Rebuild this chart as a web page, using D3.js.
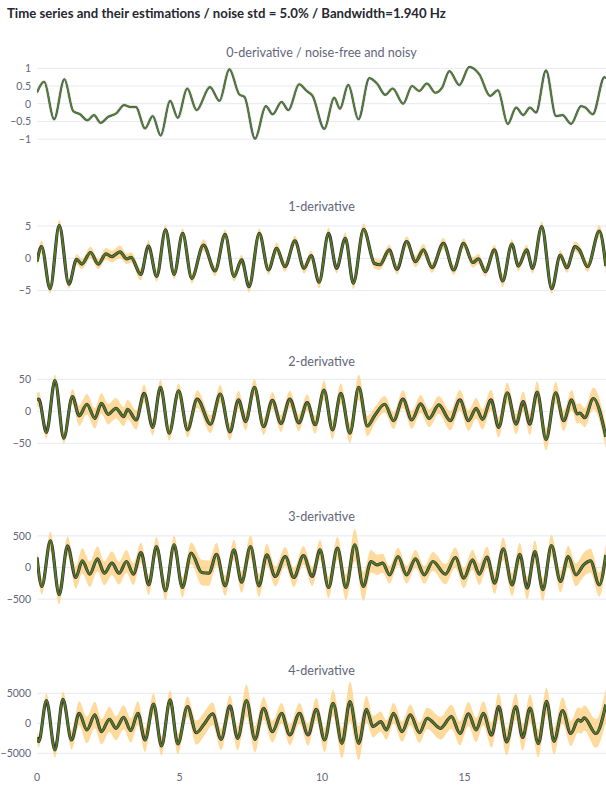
<!DOCTYPE html>
<html lang="en">
<head>
  <meta charset="UTF-8" />
  <title>Time series and their estimations</title>
  <script src="https://cdn.jsdelivr.net/npm/d3@7"></script>
  <style>
    html, body { margin: 0; padding: 0; background: #fff; overflow: hidden; }
    svg { display: block; font-family: Lato, "Open Sans", sans-serif; }
  </style>
</head>
<body>
<script>
// ---- data (time in s, one array per series) ----
const t0 = [0, 0.25, 0.6, 0.96, 1.27, 1.51, 1.77, 2.0, 2.23, 2.5, 2.77, 3.06, 3.26, 3.47, 3.79, 4.06, 4.34, 4.67, 4.94, 5.27, 5.6, 6.07, 6.4, 6.75, 7.1, 7.28, 7.65, 8.03, 8.27, 8.58, 8.82, 9.2, 9.46, 9.67, 10.08, 10.43, 10.63, 10.92, 11.28, 11.66, 11.93, 12.22, 12.48, 12.85, 13.16, 13.41, 13.68, 13.98, 14.21, 14.47, 14.82, 15.17, 15.52, 15.9, 16.17, 16.52, 16.81, 17.06, 17.3, 17.51, 17.86, 18.21, 18.44, 18.74, 19.09, 19.24, 19.5, 19.91, 19.96];
const signal0 = [0.32, 0.62, -0.44, 0.69, -0.21, -0.3, -0.47, -0.32, -0.54, -0.37, -0.28, -0.04, -0.09, -0.09, -0.7, -0.35, -0.9, 0.08, -0.4, 0.43, -0.18, 0.47, 0.08, 0.97, 0.26, 0.19, -0.99, -0.07, -0.3, 0.05, -0.18, 0.55, 0.36, 0.22, -0.71, 0.17, -0.14, 0.53, -0.44, 0.72, 0.57, 0.25, 0.43, 0.0, 0.5, 0.36, 0.57, 0.31, 0.45, 0.92, 0.53, 1.04, 0.83, 0.22, 0.38, -0.57, -0.11, -0.32, -0.11, -0.25, 0.94, -0.35, -0.32, -0.57, -0.07, -0.11, -0.3, 0.75, 0.72];

const t1 = [0, 0.16, 0.46, 0.78, 1.12, 1.39, 1.57, 1.88, 2.15, 2.42, 2.62, 2.91, 3.15, 3.3, 3.64, 3.91, 4.2, 4.51, 4.81, 5.11, 5.43, 5.84, 6.25, 6.6, 6.91, 7.18, 7.44, 7.8, 8.12, 8.41, 8.7, 9.05, 9.37, 9.62, 9.9, 10.23, 10.51, 10.82, 11.1, 11.46, 11.84, 12.03, 12.36, 12.63, 12.97, 13.28, 13.56, 13.86, 14.26, 14.62, 14.97, 15.29, 15.49, 15.73, 16.05, 16.34, 16.66, 16.89, 17.18, 17.39, 17.71, 18.06, 18.36, 18.59, 18.88, 19.03, 19.32, 19.73, 19.96];
const deriv1 = [-0.5, 1.8, -4.7, 5.1, -4.0, -0.15, -0.9, 0.9, -0.9, 0.7, 0.25, 1.0, -0.1, 0.15, -2.5, 1.9, -2.8, 4.4, -2.5, 3.85, -3.1, 2.05, -1.95, 3.7, -2.8, -0.25, -4.4, 3.85, -1.8, 1.55, -1.3, 2.7, -1.55, 0.4, -3.7, 3.85, -1.55, 3.1, -3.85, 4.5, -0.8, -1.0, 1.3, -1.7, 2.6, -0.5, 1.3, -1.45, 2.3, -1.8, 2.3, -0.65, -0.1, -2.05, 1.3, -3.5, 2.2, -1.2, 1.3, -1.55, 4.9, -4.7, 0.5, -1.45, 1.8, 1.3, -1.3, 4.2, -1.2];
const band1 = [0.8, 1.0, 0.8, 0.9, 0.7, 0.8, 0.8, 0.9, 0.8, 0.9, 0.9, 1.0, 0.8, 0.8, 0.9, 0.9, 0.8, 0.8, 0.8, 0.8, 0.8, 0.9, 0.8, 0.8, 0.8, 0.8, 0.9, 0.8, 0.8, 0.9, 0.8, 0.8, 0.8, 0.8, 0.9, 0.9, 0.8, 0.9, 0.9, 0.9, 0.8, 0.8, 0.8, 0.8, 0.8, 0.9, 0.9, 0.8, 0.9, 0.8, 0.8, 0.8, 0.8, 0.8, 0.8, 1.0, 0.8, 0.8, 0.8, 0.8, 0.8, 0.8, 0.8, 0.8, 0.8, 0.8, 0.8, 0.9, 1.3];

const t2 = [0, 0.06, 0.33, 0.63, 0.94, 1.24, 1.48, 1.75, 2.03, 2.26, 2.5, 2.77, 3.04, 3.18, 3.48, 3.76, 4.06, 4.33, 4.64, 4.97, 5.28, 5.62, 6.09, 6.43, 6.77, 7.07, 7.32, 7.63, 7.95, 8.26, 8.56, 8.87, 9.19, 9.48, 9.76, 10.07, 10.37, 10.66, 10.98, 11.29, 11.59, 11.86, 12.2, 12.51, 12.84, 13.15, 13.46, 13.76, 14.1, 14.5, 14.84, 15.14, 15.41, 15.63, 15.93, 16.2, 16.5, 16.81, 17.06, 17.29, 17.55, 17.86, 18.2, 18.48, 18.76, 18.95, 19.05, 19.22, 19.52, 19.96];
const deriv2 = [17.7, 19, -33, 48, -42, 23, -7, 11, -11, 12.5, -4.7, 4.7, -8.3, 3.1, -13.5, 28, -25, 37.5, -34, 32, -29, 19, -20, 27, -32, 18, -16, 37.5, -24, 17, -19, 19, -18, 13.5, -21, 33, -29, 28, -34, 37.5, -23, -5.7, 11, -14.6, 19, -13.5, 11.5, -11, 10, -14.6, 17.7, -14.6, 4.7, -12.5, 17.7, -25, 29, -20, 15, -20, 30, -44, 29, -14.6, 17.7, -4, -3, -10, 20, -40];
const band2 = [10, 12, 10, 9, 9, 12, 16, 16, 16, 16, 16, 16, 15, 15, 15, 14, 13, 12, 12, 12, 12, 14, 14, 14, 13, 14, 14, 13, 13, 13, 13, 13, 13, 13, 14, 15, 15, 16, 16, 20, 16, 13, 13, 13, 14, 14, 14, 14, 14, 15, 16, 16, 16, 16, 16, 16, 16, 16, 16, 17, 17, 17, 17, 16, 16, 15, 15, 15, 17, 18];

const t3 = [0, 0.17, 0.47, 0.78, 1.07, 1.36, 1.59, 1.85, 2.12, 2.36, 2.63, 2.88, 3.14, 3.38, 3.65, 3.92, 4.19, 4.51, 4.81, 5.1, 5.41, 5.78, 6.03, 6.3, 6.6, 6.91, 7.18, 7.49, 7.79, 8.06, 8.36, 8.71, 9.01, 9.35, 9.66, 9.93, 10.23, 10.54, 10.84, 11.15, 11.45, 11.72, 11.93, 12.13, 12.37, 12.67, 12.97, 13.28, 13.59, 13.89, 14.33, 14.68, 14.98, 15.28, 15.52, 15.79, 16.06, 16.36, 16.67, 16.94, 17.2, 17.47, 17.75, 18.05, 18.37, 18.64, 18.91, 19.18, 19.42, 19.73, 19.96];
const deriv3 = [158, -300, 420, -430, 342, -158, 105, -105, 137, -90, 68, -90, 95, -105, 237, -274, 331, -368, 358, -316, 226, -79, -90, 210, -290, 279, -231, 331, -290, 200, -142, 174, -158, 189, -142, 279, -316, 305, -316, 358, -300, 95, 42, 68, -116, 174, -116, 137, -116, 95, -105, 158, -168, 121, -105, 163, -247, 295, -274, 210, -326, 252, -352, 347, -221, 174, -116, 42, 105, -274, 200];
const band3 = [100, 130, 150, 160, 150, 180, 200, 200, 200, 190, 190, 180, 180, 170, 160, 160, 150, 150, 150, 160, 170, 200, 200, 180, 160, 160, 170, 180, 180, 170, 160, 150, 150, 150, 150, 160, 170, 180, 200, 250, 230, 180, 160, 150, 140, 140, 140, 140, 140, 150, 160, 160, 160, 160, 170, 170, 170, 180, 180, 180, 180, 180, 180, 170, 170, 170, 180, 190, 190, 190, 190];

const t4 = [0, 0.06, 0.33, 0.63, 0.91, 1.21, 1.48, 1.75, 2.03, 2.26, 2.54, 2.77, 3.04, 3.29, 3.54, 3.79, 4.09, 4.37, 4.67, 4.94, 5.28, 5.59, 5.86, 6.16, 6.46, 6.77, 7.04, 7.35, 7.65, 7.95, 8.26, 8.58, 8.87, 9.21, 9.51, 9.8, 10.09, 10.39, 10.7, 10.98, 11.29, 11.56, 11.79, 12.06, 12.26, 12.51, 12.81, 13.1, 13.42, 13.69, 14.16, 14.54, 14.84, 15.14, 15.41, 15.66, 15.95, 16.2, 16.48, 16.8, 17.04, 17.3, 17.59, 17.88, 18.14, 18.44, 18.73, 18.99, 19.1, 19.2, 19.61, 19.96];
const deriv4 = [-2330, -3050, 3780, -4450, 4000, -2780, 1670, -1110, 1390, -1390, 670, -830, 1000, -1220, 1670, -2780, 3220, -3780, 3890, -3440, 2780, -1560, -170, 1560, -2670, 2890, -2500, 3780, -2670, 2500, -1390, 1670, -1940, 1670, -1940, 2330, -2780, 3330, -3330, 3610, -3330, 2330, -560, 280, -1110, 1670, -1390, 1390, -1560, 830, -830, 1110, -1670, 1560, -1110, 1670, -1970, 2800, -3090, 2800, -2360, 2530, -3370, 3650, -3000, 2130, -1700, 560, 340, 900, -1700, 3100];
const band4 = [900, 1000, 1200, 1300, 1300, 1600, 2000, 2200, 2200, 2100, 2100, 2000, 2000, 2000, 2000, 2000, 1800, 1600, 1600, 1700, 1700, 2000, 2000, 1900, 1800, 1800, 2000, 2700, 2200, 1900, 1800, 1700, 1700, 1700, 1800, 1900, 2000, 2200, 2500, 3300, 2800, 2200, 1800, 1700, 1600, 1700, 1700, 1700, 1700, 1800, 1900, 2000, 2000, 2000, 2000, 2000, 2100, 2200, 2200, 2200, 2200, 2300, 2300, 2300, 2200, 2200, 2100, 2100, 2100, 2100, 2400, 2800];

const panelTitles = ["0-derivative / noise-free and noisy", "1-derivative", "2-derivative", "3-derivative", "4-derivative"];
const yTicks = [[1, 0.5, 0, -0.5, -1], [5, 0, -5], [50, 0, -50], [500, 0, -500], [5000, 0, -5000]];
const xTicks = [0, 5, 10, 15];
const mainTitle = "Time series and their estimations / noise std = 5.0% / Bandwidth=1.940 Hz";

// ---- layout ----
const width = 606, height = 786;
const left = 37, right = 606;
const tMax = 19.965;
// pixel row of the zero line, pixel offset of the outer tick, subplot title row
const zeroY = [103.7, 258.3, 411.3, 567.5, 723.3];
const tickSpan = [35.4, 32.3, 32.0, 31.6, 30.0];
const titleY = [52, 206, 361, 516, 670];

const colGreen = "#4f7d16", colTrue = "#3a2150", colBand = "#fdcf7c", colGrid = "#e7e9f1", colText = "#62667a";

const svg = d3.select("body").append("svg")
  .attr("width", width).attr("height", height);

const x = d3.scaleLinear().domain([0, tMax]).range([left, right]);

svg.append("text")
  .attr("x", 7).attr("y", 18)
  .attr("font-size", 13.2).attr("font-weight", 700).attr("fill", "#262730")
  .text(mainTitle);

const series = [
  { t: t0, v: signal0 },
  { t: t1, v: deriv1, band: band1 },
  { t: t2, v: deriv2, band: band2 },
  { t: t3, v: deriv3, band: band3 },
  { t: t4, v: deriv4, band: band4 }
];

series.forEach((s, i) => {
  const top = titleY[i] + 7;
  const bottom = zeroY[i] + (zeroY[i] - top);
  const m = yTicks[i][0];
  const y = d3.scaleLinear().domain([-m, m]).range([zeroY[i] + tickSpan[i], zeroY[i] - tickSpan[i]]);

  const g = svg.append("g");

  // gridlines + tick labels
  g.selectAll("line.grid").data(yTicks[i]).join("line")
    .attr("x1", left).attr("x2", right)
    .attr("y1", d => y(d)).attr("y2", d => y(d))
    .attr("stroke", colGrid).attr("stroke-width", 1);
  g.selectAll("text.tick").data(yTicks[i]).join("text")
    .attr("x", 31).attr("y", d => y(d) + 3.8)
    .attr("text-anchor", "end").attr("font-size", 10.5).attr("fill", colText)
    .text(d => d3.format("")(d).replace("-", "\u2212"));

  g.append("text")
    .attr("x", (left + right) / 2).attr("y", titleY[i] + 4.5)
    .attr("text-anchor", "middle").attr("font-size", 12.6).attr("fill", colText)
    .text(panelTitles[i]);

  const clipId = "clip" + i;
  svg.append("clipPath").attr("id", clipId).append("rect")
    .attr("x", left).attr("y", top).attr("width", right - left).attr("height", bottom - top);
  const plot = g.append("g").attr("clip-path", `url(#${clipId})`);

  const pts = s.t.map((t, k) => ({ t, v: s.v[k], b: s.band ? s.band[k] : 0 }));
  const line = d3.line().x(d => x(d.t)).y(d => y(d.v)).curve(d3.curveMonotoneX);

  if (s.band) {
    const area = d3.area().x(d => x(d.t))
      .y0(d => y(d.v - d.b)).y1(d => y(d.v + d.b))
      .curve(d3.curveMonotoneX);
    plot.append("path").attr("d", area(pts))
      .attr("fill", colBand).attr("fill-opacity", 0.75);
    plot.append("path").attr("d", line(pts))
      .attr("fill", "none").attr("stroke", colTrue).attr("stroke-width", 3.2);
    plot.append("path").attr("d", line(pts))
      .attr("fill", "none").attr("stroke", colGreen).attr("stroke-width", 2);
  } else {
    // noisy trace, noise-free trace, estimate
    plot.append("path").attr("d", line(pts))
      .attr("fill", "none").attr("stroke", "#7d7d7d").attr("stroke-width", 3)
      .attr("stroke-opacity", 0.45);
    plot.append("path").attr("d", line(pts))
      .attr("fill", "none").attr("stroke", "#23238f").attr("stroke-width", 1.7);
    plot.append("path").attr("d", line(pts))
      .attr("fill", "none").attr("stroke", "#55861a").attr("stroke-width", 1.5);
  }
});

svg.append("g").selectAll("text").data(xTicks).join("text")
  .attr("x", d => x(d)).attr("y", 781)
  .attr("text-anchor", "middle").attr("font-size", 10.5).attr("fill", colText)
  .text(d => d);
</script>
</body>
</html>
